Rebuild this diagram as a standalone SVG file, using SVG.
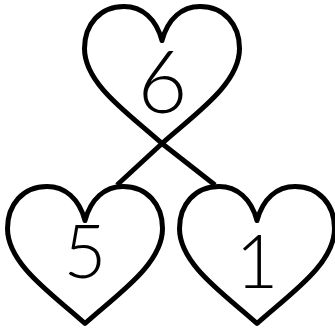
<svg xmlns="http://www.w3.org/2000/svg" width="335" height="330" viewBox="0 0 335 330">
<defs>
<style>
.heart{fill:none;stroke:#000;stroke-width:5;stroke-linejoin:round;stroke-linecap:round}
.conn{fill:none;stroke:#000;stroke-width:5;stroke-linecap:butt}
.num{font-family:"Lato","Liberation Sans",sans-serif;font-weight:300;fill:#000;text-anchor:middle}
</style>
<path id="heartShape" d="M0,34 C-6,12 -20,0 -38,0 C-62,0 -77.5,18 -77.5,42 C-77.5,78 -32,108 0,137 C32,108 77.5,78 77.5,42 C77.5,18 62,0 38,0 C20,0 6,12 0,34 Z"/>
</defs>
<rect width="335" height="330" fill="#fff"/>
<g id="connectors">
<path class="conn" d="M162,143.5 L117,185"/>
<path class="conn" d="M162,143.5 L215,185"/>
</g>
<g id="node-6">
<use href="#heartShape" class="heart" transform="translate(162,6.5)"/>
<text class="num" x="162.5" y="113" font-size="86">6</text>
</g>
<g id="node-5">
<use href="#heartShape" class="heart" transform="translate(85,186.5)"/>
<text class="num" x="85" y="278" font-size="74">5</text>
</g>
<g id="node-1">
<use href="#heartShape" class="heart" transform="translate(257,186.5)"/>
<text class="num" x="257" y="288" font-size="74">1</text>
</g>
</svg>
